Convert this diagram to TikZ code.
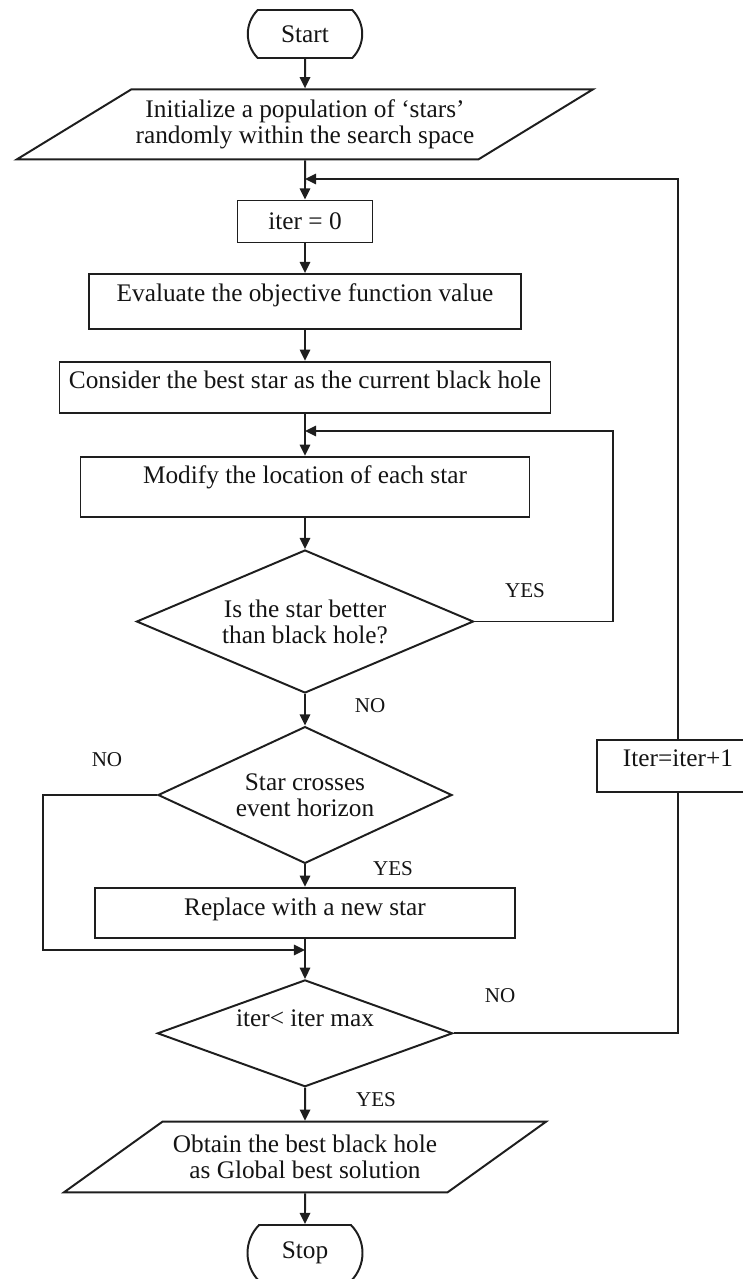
\documentclass[tikz,border=0pt]{standalone}
\usepackage{fontspec}
\setmainfont{Liberation Serif}
\usetikzlibrary{shapes.geometric,shapes.misc,arrows.meta}

\definecolor{fcline}{HTML}{1E1E1E}
\definecolor{fctext}{HTML}{141414}
\tikzset{
  fc/.style={draw=fcline,line width=1.4pt},
  bloco/.style={fc,rectangle,inner sep=0pt,font=\fontsize{18}{18.5}\selectfont,text=fctext},
  decisao/.style={fc,diamond,inner sep=0pt,align=center,font=\fontsize{18}{18.5}\selectfont,text=fctext},
  entrada/.style={fc,trapezium,trapezium stretches body=true,inner sep=0pt,align=center,font=\fontsize{18}{18.5}\selectfont,text=fctext},
  terminal/.style={fc,rounded rectangle,rounded rectangle arc length=90,inner sep=0pt,font=\fontsize{18}{18.5}\selectfont,text=fctext},
  seta/.style={fcline,line width=1.4pt,-{Triangle[length=2.8mm,width=2.6mm]}},
  liga/.style={fcline,line width=1.4pt},
  rot/.style={font=\fontsize{15}{15}\selectfont,text=fctext,inner sep=0pt},
}

\begin{document}
\begin{tikzpicture}[x=0.25mm,y=-0.25mm]
  \useasboundingbox (0,0) rectangle (743,1279);
  \clip (0,0) rectangle (743,1279);
  \node[terminal,minimum width=28.6mm,minimum height=12mm] (start) at (305,34) {Start};
  \node[entrada,trapezium left angle=23.3,trapezium right angle=156.7,minimum width=144mm,minimum height=17.5mm] (init) at (305,124.3)
    {Initialize a population of `stars'\\randomly within the search space};
  \coordinate (j1) at (305,179);
  \node[bloco,minimum width=33.75mm,minimum height=10.5mm] (iterzero) at (305,221.5) {iter = 0};
  \node[bloco,minimum width=108mm,minimum height=13.75mm,text height=12pt,text depth=12.7pt] (eval) at (305,301.6) {Evaluate the objective function value};
  \node[bloco,minimum width=122.75mm,minimum height=12.8mm,text height=12pt,text depth=11pt] (consider) at (305,387.3) {Consider the best star as the current black hole};
  \coordinate (j2) at (305,431);
  \node[bloco,minimum width=112.25mm,minimum height=15.1mm,text height=12pt,text depth=16.3pt] (modify) at (305,487) {Modify the location of each star};
  \node[decisao,aspect=2.36,minimum width=84.25mm,minimum height=35.75mm] (better) at (305,621.5) {Is the star better\\than black hole?};
  \node[decisao,aspect=2.15,minimum width=73.5mm,minimum height=34.2mm] (crosses) at (305,795) {Star crosses\\event horizon};
  \node[bloco,minimum width=105mm,minimum height=12.5mm,text height=12pt,text depth=8.7pt] (replace) at (305,912.7) {Replace with a new star};
  \coordinate (j3) at (305,950);
  \node[decisao,aspect=2.76,minimum width=73.8mm,minimum height=26.7mm,text height=12pt,text depth=21.4pt] (itermax) at (305,1033.3) {iter< iter max};
  \node[entrada,trapezium left angle=24,trapezium right angle=156,minimum width=120.5mm,minimum height=17.65mm] (obtain) at (305,1157)
    {Obtain the best black hole\\as Global best solution};
  \node[terminal,minimum width=28.75mm,minimum height=14mm] (stop) at (305,1253) {Stop};
  \node[bloco,minimum width=40.5mm,minimum height=13mm,text height=12pt,text depth=12pt] (itercount) at (678,766) {Iter=iter+1};
  % cantos dos lacos
  \coordinate (b1) at (613,431);
  \coordinate (c1) at (43,950);
  \draw[seta] (start) -- (init);
  \draw[seta] (init) -- (iterzero);
  \draw[seta] (iterzero) -- (eval);
  \draw[seta] (eval) -- (consider);
  \draw[seta] (consider) -- (modify);
  \draw[seta] (modify) -- (better);
  \draw[seta] (better) -- (crosses);
  \draw[seta] (crosses) -- (replace);
  \draw[seta] (replace) -- (itermax);
  \draw[seta] (itermax) -- (obtain);
  \draw[seta] (obtain) -- (stop);
  \draw[seta] (better.east) -| (b1) -- (j2);                % YES volta
  \draw[seta] (crosses.west) -| (c1) -- (j3);               % NO desvia
  \draw[liga] (itermax.east) -| (itercount.south);
  \draw[seta] (itercount.north) |- (j1);
  \node[rot] (simbetter) at (525,591) {YES};
  \node[rot] (naobetter) at (370,706) {NO};
  \node[rot] (naocrosses) at (107,760) {NO};
  \node[rot] (simcrosses) at (393,869) {YES};
  \node[rot] (naomax) at (500,996) {NO};
  \node[rot] (simmax) at (376,1100) {YES};
\end{tikzpicture}
\end{document}
